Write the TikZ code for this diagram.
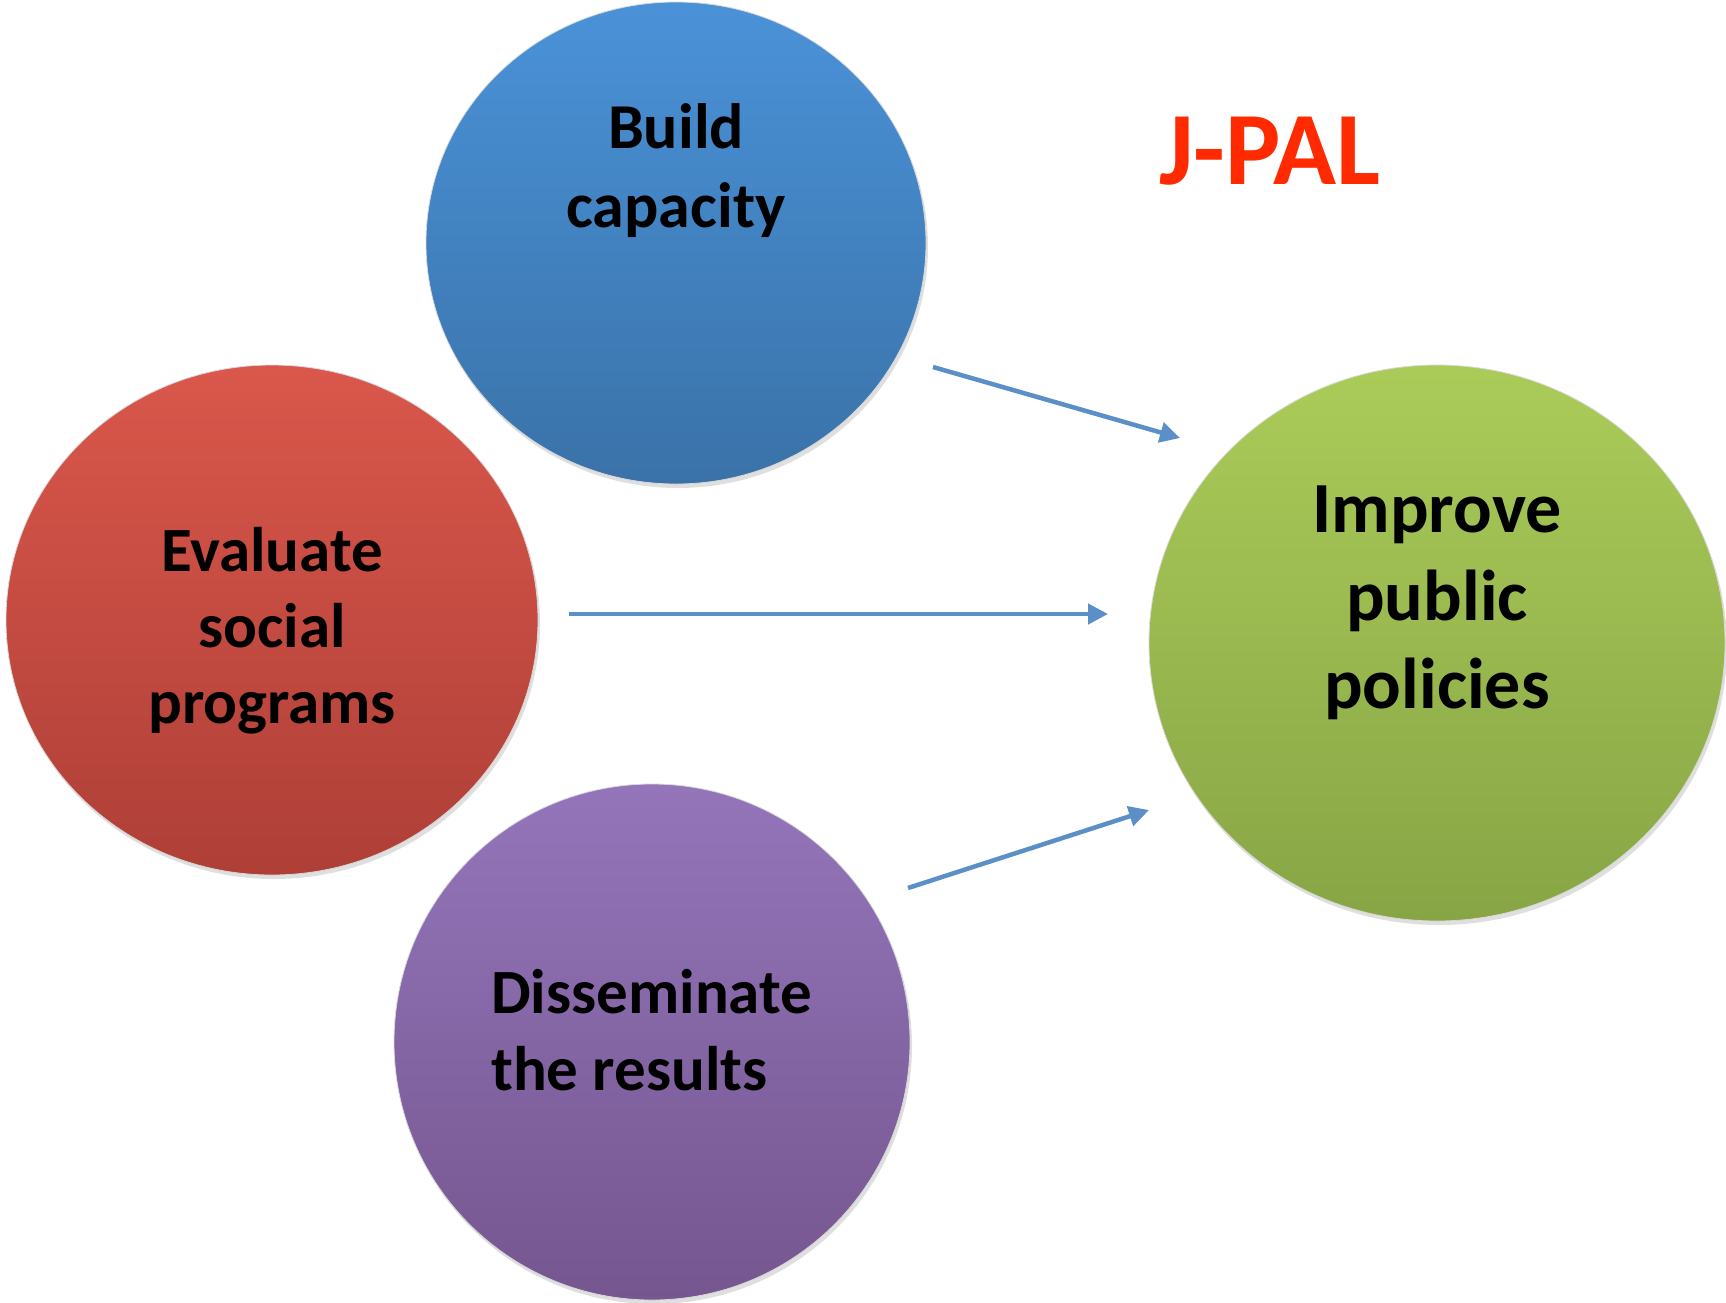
\documentclass[tikz,border=0pt]{standalone}
\usepackage{fontspec}
\setmainfont{Carlito}
\usetikzlibrary{shapes.geometric,arrows.meta,shadows}
\definecolor{blueT}{HTML}{4A92D8}
\definecolor{blueB}{HTML}{3A72A8}
\definecolor{redT}{HTML}{DA574B}
\definecolor{redB}{HTML}{AE3F37}
\definecolor{purT}{HTML}{9475BA}
\definecolor{purB}{HTML}{75568F}
\definecolor{grnT}{HTML}{ABCB59}
\definecolor{grnB}{HTML}{88A545}
\definecolor{arrowc}{HTML}{5A8FC8}
\definecolor{jpal}{HTML}{FF2A00}
\tikzset{
  blob/.style={ellipse, inner sep=0pt, draw=white!85!black, line width=0.8pt,
    drop shadow={shadow xshift=2pt, shadow yshift=-4pt, fill=black!25, opacity=0.5}},
  lbl/.style={font=\bfseries, text=black, inner sep=0pt},
  conn/.style={draw=arrowc, line width=4.5pt, -{Triangle[length=20pt,width=20pt]}}
}
\begin{document}
\begin{tikzpicture}[x=1pt,y=-1pt]
\useasboundingbox (0,0) rectangle (1726,1302);
% circles
\node[blob, minimum width=500pt, minimum height=482pt, top color=blueT, bottom color=blueB] (build) at (676,243) {};
\node[blob, minimum width=532pt, minimum height=510pt, top color=redT, bottom color=redB] (eval) at (272,620) {};
\node[blob, minimum width=516pt, minimum height=516pt, top color=purT, bottom color=purB] (diss) at (652,1042) {};
\node[blob, minimum width=576pt, minimum height=556pt, top color=grnT, bottom color=grnB] (impr) at (1437,643) {};
% labels
\node[lbl, align=center, font=\bfseries\fontsize{64}{79}\selectfont] (tbuild) at (676,171) {Build\\capacity};
\node[lbl, align=center, font=\bfseries\fontsize{63}{76}\selectfont] (teval) at (272,631) {Evaluate\\social\\programs};
\node[lbl, align=center, font=\bfseries\fontsize{72}{88}\selectfont] (timpr) at (1437,603) {Improve\\public\\policies};
\node[lbl, align=left, anchor=west, font=\bfseries\fontsize{63}{77}\selectfont] (tdiss) at (491,1030) {Disseminate\\the results};
\node[lbl, text=jpal, font=\bfseries\fontsize{104}{110}\selectfont] (jp) at (1270,151) {J-PAL};
% arrow ends
\coordinate (a1s) at (933,367);
\coordinate (a1e) at (1180,438);
\coordinate (a2s) at (569,614);
\coordinate (a2e) at (1108,614);
\coordinate (a3s) at (908,888);
\coordinate (a3e) at (1149,810);
\draw[conn] (a1s) -- (a1e);
\draw[conn] (a2s) -- (a2e);
\draw[conn] (a3s) -- (a3e);
\end{tikzpicture}
\end{document}
